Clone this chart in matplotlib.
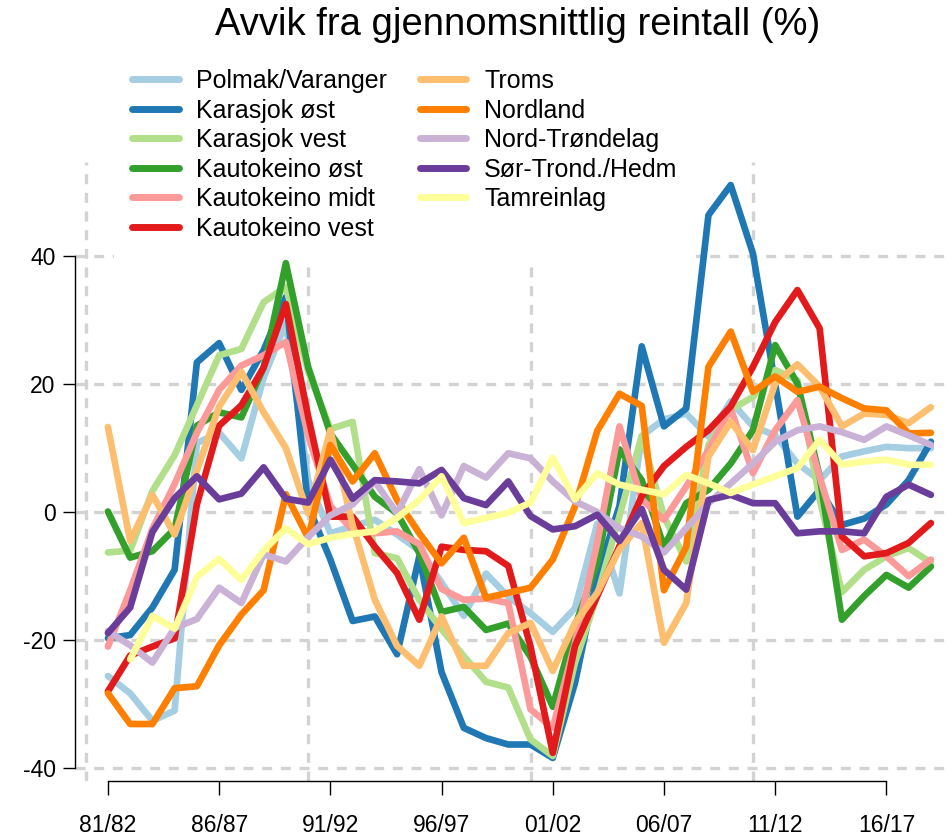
import numpy as np
import matplotlib
matplotlib.use('Agg')
import matplotlib.pyplot as plt

plt.rcParams['font.family'] = ['Liberation Sans', 'DejaVu Sans']
plt.rcParams['axes.unicode_minus'] = False

# sesonger 81/82 .. 18/19
seasons = [f"{(81 + k) % 100:02d}/{(82 + k) % 100:02d}" for k in range(38)]
tick_labels = ['81/82', '86/87', '91/92', '96/97', '01/02', '06/07', '11/12', '16/17']

names = ['Polmak/Varanger', 'Karasjok øst', 'Karasjok vest', 'Kautokeino øst',
         'Kautokeino midt', 'Kautokeino vest', 'Troms', 'Nordland',
         'Nord-Trøndelag', 'Sør-Trond./Hedm', 'Tamreinlag']
colors = ['#A6CEE3', '#1F78B4', '#B2DF8A', '#33A02C', '#FB9A99', '#E31A1C',
          '#FDBF6F', '#FF7F00', '#CAB2D6', '#6A3D9A', '#FFFF99']

polmak = [-25.6, -28.3, -32.6, -31, 10.8, 12.4, 8.4, 21, 29.6, 5, -3.3, -2.2, -1.2, -3.5,
          -6, -11, -16.2, -9.6, -13.2, -15.8, -18.7, -15, -1.8, -12.7, 11.9, 14.5, 15.4,
          11.8, 17.3, 13.4, 12, 7.6, 5, 8.7, 9.5, 10.2, 10, 10]
karasjok_ost = [-19.7, -19.2, -14.9, -9, 23.4, 26.4, 19.1, 25.3, 33.6, 1, -7.4, -17, -16.3,
                -22.2, -6.9, -25, -33.7, -35.3, -36.3, -36.3, -38.4, -26.7, -10, 1, 25.9,
                13.4, 16.2, 46.4, 51.1, 40.4, 20, -0.7, 3.5, -2, -1, 1.2, 5, 11]
karasjok_vest = [-6.3, -6, 3.3, 8.9, 16.7, 24.5, 25.5, 32.8, 35.2, 22, 13, 14.1, -6.4, -7.2,
                 -13.7, -18.3, -22.5, -26.5, -27.4, -35.5, -38.1, -23.5, -13, -0.6, 11.9,
                 -0.7, -7.7, 10.5, 16, 18, 22.2, 20.6, 2, -12.5, -9, -6.9, -5.6, -7.9]
kautokeino_ost = [0.1, -7.1, -6.1, -2.6, 13.5, 15.6, 14.8, 22.6, 38.9, 22.7, 12.3, 7.4, 2.4,
                  -0.2, -6.4, -15.6, -14.8, -18.4, -17.4, -22.6, -30.4, -17.8, -7.9, 9.8, 5,
                  -5.4, 1.4, 3.5, 7.6, 12.8, 26.1, 20.1, 5.6, -16.8, -13.1, -9.8, -11.8, -8.5]
kautokeino_midt = [-21, -12.2, -2.6, 4.4, 12.4, 19.1, 22.9, 24.5, 26.6, 12, 1, -2.8, -3.3,
                   -3, -5, -12, -13.7, -13.5, -14.2, -30.8, -33.7, -20.4, -4.8, 13.4, 2,
                   -1.2, 4, 9.7, 16.2, 6.1, 12.8, 17.5, 5.5, -5.9, -4.3, -6.9, -10, -7.4]
kautokeino_vest = [-28, -22.4, -21, -19.7, 1.2, 13.5, 16.7, 22.6, 32.5, 15, -0.7, -0.7, -5.4,
                   -9.5, -16.8, -5.4, -5.9, -6.1, -8.4, -21, -37.6, -20.9, -13.1, -5.3, 2.5,
                   7.2, 10.2, 12.8, 16.5, 22.7, 29.7, 34.7, 28.7, -3.8, -6.9, -6.4, -4.8, -1.7]
troms = [13.3, -4.5, 2.7, -3.5, 6.5, 16.5, 21.9, 15.6, 10, -0.2, 12.8, -2, -13.7, -20.9, -24,
         -16.3, -24, -24, -18.9, -17.3, -24.8, -17.3, -12.6, -5.8, -1.7, -20.4, -14.2, 8.7,
         14.1, 9.7, 20.1, 23.1, 19.6, 13.4, 15.4, 15.2, 13.9, 16.4]
nordland = [-28.3, -33.1, -33.1, -27.5, -27.2, -20.8, -16, -12.2, 2.8, -4, 10.5, 4.8, 9.2,
            1.9, -3.3, -8, -4, -13.4, -12.6, -11.8, -7.4, 0.9, 12.7, 18.5, 16.6, -12.2, -5.4,
            22.7, 28.2, 18.8, 21.2, 18.8, 19.6, 17.8, 16.2, 15.9, 12.3, 12.4]
nord_trondelag = [-18.6, -20.8, -23.5, -18.1, -16.7, -11.8, -14.2, -6.6, -7.7, -3.9, -0.5,
                  1.2, 4.8, -0.2, 6.7, -0.5, 7.2, 5.4, 9.2, 8.4, 4.8, 1.7, 0, -2.5, -3.8,
                  -6.3, -2.5, 1.4, 4.5, 7.6, 11, 12.8, 13.4, 12.5, 11.3, 13.4, 12, 10.5]
sor_trond = [-18.9, -14.9, -3.1, 2.2, 5.6, 2, 2.9, 7, 2.1, 1.5, 8.2, 2.1, 5, 4.8, 4.5, 6.6,
             2.2, 1.1, 4.8, -0.6, -2.7, -2.2, -0.4, -4.5, 0.5, -9, -12.1, 1.9, 2.7, 1.4, 1.4,
             -3.3, -3, -3, -3.3, 2.4, 4.3, 2.7]
tamreinlag = [np.nan, -23, -16.2, -18.2, -10.1, -7.3, -10.6, -6, -2.5, -5, -4, -3.4, -3,
              -0.9, 1.9, 5.6, -1.7, -0.9, -0.1, 1.5, 8.5, 2, 6.1, 4.3, 3.5, 2.8, 5.8, 4.5,
              3, 4.3, 5.6, 6.9, 11.3, 7.4, 7.9, 8.2, 7.4, 7.4]

series = [polmak, karasjok_ost, karasjok_vest, kautokeino_ost, kautokeino_midt,
          kautokeino_vest, troms, nordland, nord_trondelag, sor_trond, tamreinlag]

x = np.arange(1, len(seasons) + 1)

fig = plt.figure(figsize=(9.48, 8.38), dpi=100)
ax = fig.add_axes([75 / 948, 1 - 781 / 838, 888.8 / 948, 619 / 838])
ax.set_xlim(-0.48, 39.48)
ax.set_ylim(-42, 54.7)

# grid (R-style, dotted lightgray)
grid_kw = dict(color='#D3D3D3', lw=2.4, linestyle=(0, (3, 2.6)), zorder=0)
for gy in [-40, -20, 0, 20, 40]:
    ax.axhline(gy, **grid_kw)
for gx in [0, 10, 20, 30]:
    ax.axvline(gx, **grid_kw)

for name, vals, col in zip(names, series, colors):
    ax.plot(x, vals, color=col, lw=4.8, label=name,
            solid_joinstyle='round', solid_capstyle='round', zorder=2)

for s in ['top', 'right']:
    ax.spines[s].set_visible(False)
ax.spines['left'].set_bounds(-40, 40)
ax.spines['bottom'].set_bounds(1, 36)
ax.spines['left'].set_linewidth(1.0)
ax.spines['bottom'].set_linewidth(1.0)

ax.set_yticks([-40, -20, 0, 20, 40])
ax.set_xticks(x[::5])
ax.set_xticklabels(tick_labels)
ax.tick_params(axis='both', labelsize=16.5, width=1.0)
ax.tick_params(axis='x', length=10, pad=14)
ax.tick_params(axis='y', length=9, pad=5)

fig.text(0.5464, 0.970, 'Avvik fra gjennomsnittlig reintall (%)', fontsize=27.5,
         ha='center', va='center')

leg = fig.legend(loc='upper left', bbox_to_anchor=(101 / 948, 1 - 38 / 838), ncol=2,
                 fontsize=18, handlelength=1.85, handletextpad=0.72, columnspacing=1.3,
                 labelspacing=0.22, borderpad=0.75, frameon=True, fancybox=False)
leg.get_frame().set_facecolor('white')
leg.get_frame().set_edgecolor('none')
leg.get_frame().set_alpha(1)
for h in leg.get_lines():
    h.set_linewidth(5.0)

fig.savefig('out.png', dpi=100)
